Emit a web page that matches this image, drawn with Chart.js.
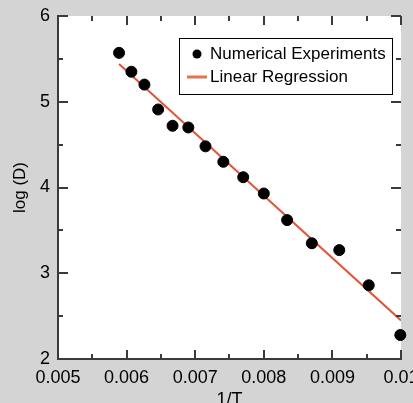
<!DOCTYPE html>
<html>
<head>
<meta charset="utf-8">
<script src="https://cdn.jsdelivr.net/npm/chart.js@4.4.0/dist/chart.umd.min.js"></script>
<style>
  html, body { margin: 0; padding: 0; background: #d4d4d4; }
  #wrap { width: 413px; height: 403px; }
</style>
</head>
<body>
<div id="wrap"><canvas id="plot" width="413" height="403"></canvas></div>
<script>
const FONT = "'Liberation Sans', Arial, Helvetica, sans-serif";

// 1/T and log(D) of the numerical experiments
const invT = [0.00589, 0.00607, 0.00626, 0.00646, 0.00667, 0.00690, 0.00715, 0.00741, 0.00770, 0.00800, 0.00834, 0.00870, 0.00910, 0.00953, 0.00999];
const logD = [5.57, 5.35, 5.20, 4.91, 4.72, 4.70, 4.48, 4.30, 4.12, 3.93, 3.62, 3.35, 3.27, 2.86, 2.28];

// end points of the fitted line
const fitX = [0.00589, 0.01];
const fitY = [5.44, 2.45];

const xTickLabels = ['0.005', '0.006', '0.007', '0.008', '0.009', '0.01'];
const yTickLabels = ['2', '3', '4', '5', '6'];

const labelNames = ['Numerical Experiments', 'Linear Regression'];
const lineColor = '#e2553a';
const axisColor = '#3a3a3a';

const points = invT.map((x, i) => ({ x: x, y: logD[i] }));
const fitLine = fitX.map((x, i) => ({ x: x, y: fitY[i] }));

// tick marks pointing into the plot on all four sides
const innerTicks = {
    id: 'innerTicks',
    afterDraw(chart) {
        const ctx = chart.ctx;
        const a = chart.chartArea;
        const xs = chart.scales.x, ys = chart.scales.y;
        ctx.save();
        ctx.strokeStyle = axisColor;
        ctx.lineWidth = 2;
        for (let i = 0; i <= 10; i++) {
            const v = xs.min + i * (xs.max - xs.min) / 10;
            const px = Math.round(xs.getPixelForValue(v));
            const len = i % 2 === 0 ? 9 : 5;
            ctx.beginPath();
            ctx.moveTo(px, a.bottom); ctx.lineTo(px, a.bottom - len);
            ctx.moveTo(px, a.top); ctx.lineTo(px, a.top + len);
            ctx.stroke();
        }
        for (let i = 0; i <= 8; i++) {
            const v = ys.min + i * (ys.max - ys.min) / 8;
            const py = Math.round(ys.getPixelForValue(v));
            const len = i % 2 === 0 ? 10 : 5;
            ctx.beginPath();
            ctx.moveTo(a.left, py); ctx.lineTo(a.left + len, py);
            ctx.moveTo(a.right, py); ctx.lineTo(a.right - len, py);
            ctx.stroke();
        }
        ctx.restore();
    }
};

// boxed legend in the upper right of the plot
const boxLegend = {
    id: 'boxLegend',
    afterDraw(chart) {
        const ctx = chart.ctx;
        const a = chart.chartArea;
        const x0 = a.right - 222, y0 = a.top + 22, w = 213, h = 56;
        ctx.save();
        ctx.fillStyle = '#ffffff';
        ctx.fillRect(x0, y0, w, h);
        ctx.strokeStyle = '#000000';
        ctx.lineWidth = 1;
        ctx.strokeRect(x0 + 0.5, y0 + 0.5, w, h);
        ctx.fillStyle = '#000000';
        ctx.beginPath();
        ctx.arc(x0 + 18, y0 + 16, 4.5, 0, Math.PI * 2);
        ctx.fill();
        ctx.strokeStyle = '#e8704f';
        ctx.lineWidth = 3;
        ctx.beginPath();
        ctx.moveTo(x0 + 8, y0 + 39); ctx.lineTo(x0 + 28, y0 + 39);
        ctx.stroke();
        ctx.fillStyle = '#000000';
        ctx.font = '17px ' + FONT;
        ctx.textBaseline = 'middle';
        ctx.fillText(labelNames[0], x0 + 31, y0 + 16);
        ctx.fillText(labelNames[1], x0 + 31, y0 + 39);
        ctx.restore();
    }
};

new Chart(document.getElementById('plot'), {
    type: 'scatter',
    data: {
        datasets: [
            {
                label: labelNames[1],
                type: 'line',
                data: fitLine,
                borderColor: lineColor,
                borderWidth: 2,
                pointRadius: 0,
                fill: false,
                order: 2
            },
            {
                label: labelNames[0],
                data: points,
                backgroundColor: '#000000',
                borderColor: '#000000',
                pointRadius: 5.5,
                clip: false,
                order: 1
            }
        ]
    },
    options: {
        responsive: false,
        animation: false,
        layout: { padding: { top: 16, right: 12, left: 0, bottom: 0 } },
        plugins: {
            legend: { display: false },
            tooltip: { enabled: false }
        },
        scales: {
            x: {
                type: 'linear',
                min: 0.005,
                max: 0.01,
                afterBuildTicks(scale) {
                    scale.ticks = xTickLabels.map(t => ({ value: parseFloat(t) }));
                },
                afterFit(scale) {
                    scale.height = 44;
                    scale.paddingLeft = 0;
                    scale.paddingRight = 0;
                },
                grid: { display: true, drawOnChartArea: false, drawTicks: false },
                border: { display: true, color: axisColor, width: 2 },
                ticks: {
                    color: '#000000',
                    padding: 8,
                    maxRotation: 0,
                    autoSkip: false,
                    font: { family: FONT, size: 18 },
                    callback: (v, i) => xTickLabels[i]
                },
                title: {
                    display: true,
                    text: '1/T',
                    color: '#000000',
                    padding: { top: 0, bottom: -8 },
                    font: { family: FONT, size: 18 }
                }
            },
            y: {
                type: 'linear',
                min: 2,
                max: 6,
                afterBuildTicks(scale) {
                    scale.ticks = yTickLabels.map(t => ({ value: parseFloat(t) }));
                },
                afterFit(scale) {
                    scale.width = 58;
                    scale.paddingTop = 0;
                    scale.paddingBottom = 0;
                },
                grid: { display: true, drawOnChartArea: false, drawTicks: false },
                border: { display: true, color: axisColor, width: 2 },
                ticks: {
                    color: '#000000',
                    padding: 8,
                    font: { family: FONT, size: 18 },
                    callback: (v, i) => yTickLabels[i]
                },
                title: {
                    display: true,
                    text: 'log (D)',
                    color: '#000000',
                    padding: { top: 10, bottom: 4 },
                    font: { family: FONT, size: 17 }
                }
            }
        }
    },
    plugins: [innerTicks, boxLegend, {
        id: 'bg',
        beforeDraw(chart) {
            const ctx = chart.ctx, a = chart.chartArea;
            ctx.save();
            ctx.fillStyle = '#d4d4d4';
            ctx.fillRect(0, 0, chart.width, chart.height);
            ctx.fillStyle = '#ffffff';
            ctx.fillRect(a.left, a.top, a.right - a.left, a.bottom - a.top);
            ctx.restore();
        }
    }]
});
</script>
</body>
</html>
